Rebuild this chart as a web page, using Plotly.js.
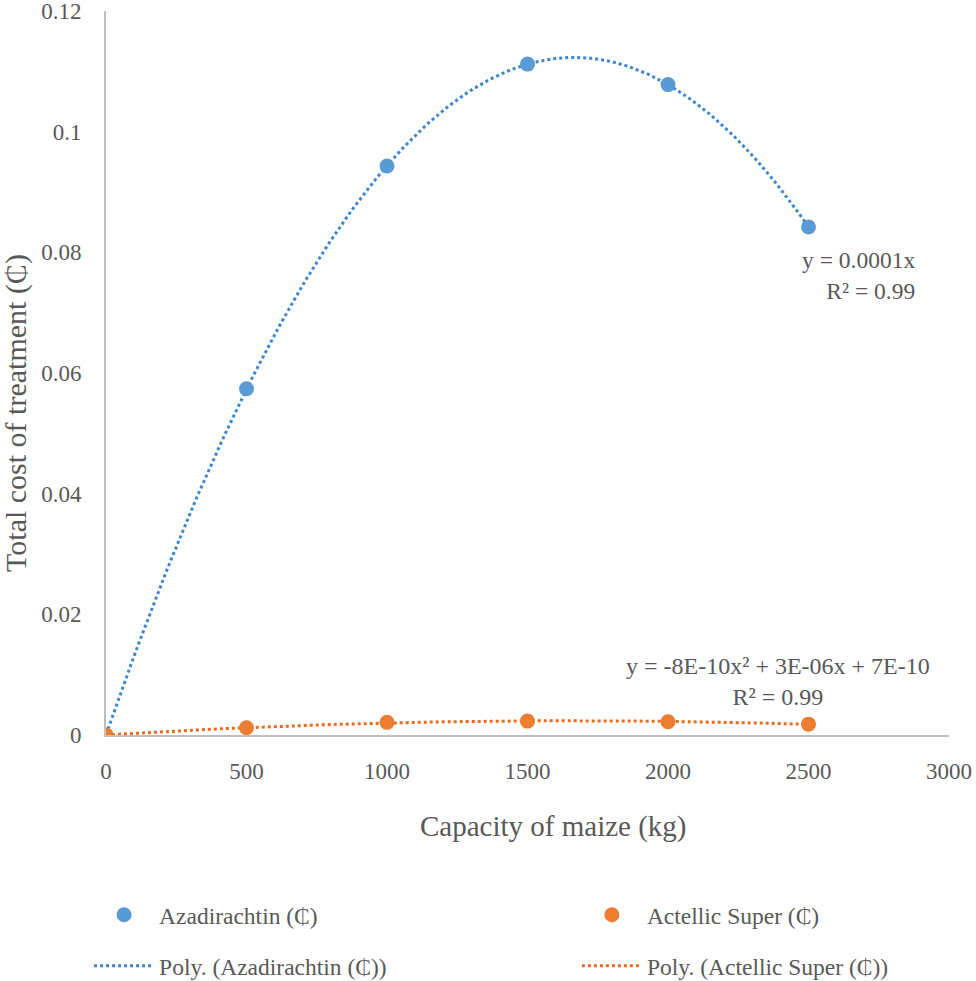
<!DOCTYPE html>
<html>
<head>
<meta charset="utf-8">
<script src="https://cdn.plot.ly/plotly-3.0.1.min.js"></script>
<style>html,body{margin:0;padding:0;background:#fff;}#chart{width:976px;height:981px;}</style>
</head>
<body>
<div id="chart"></div>
<script>
// Data
var capacity = [0, 500, 1000, 1500, 2000, 2500];
var azadirachtin = [0, 0.0574, 0.0943, 0.1112, 0.1078, 0.0842];
var actellic = [0, 0.0012, 0.0021, 0.0023, 0.0022, 0.0018];
var xTicks = [0, 500, 1000, 1500, 2000, 2500, 3000];
var yTicks = [0, 0.02, 0.04, 0.06, 0.08, 0.1, 0.12];
var yTickText = ['0', '0.02', '0.04', '0.06', '0.08', '0.1', '0.12'];
var seriesNames = ['Azadirachtin (\u20B5)', 'Actellic Super (\u20B5)'];
var trendNames = ['Poly. (Azadirachtin (\u20B5))', 'Poly. (Actellic Super (\u20B5))'];
var eqAza = ['y = 0.0001x', 'R\u00B2 = 0.99'];
var eqAct = ['y = -8E-10x\u00B2 + 3E-06x + 7E-10', 'R\u00B2 = 0.99'];
var xTitle = 'Capacity of maize (kg)';
var yTitle = 'Total cost of treatment (\u20B5)';

// Least-squares quadratic fit (Excel "Poly." order 2 trendline)
function polyFit2(xs, ys) {
  var S = [0,0,0,0,0], T = [0,0,0];
  for (var i = 0; i < xs.length; i++) {
    var p = 1;
    for (var k = 0; k < 5; k++) { S[k] += p; if (k < 3) T[k] += p * ys[i]; p *= xs[i]; }
  }
  var A = [[S[0],S[1],S[2],T[0]],[S[1],S[2],S[3],T[1]],[S[2],S[3],S[4],T[2]]];
  for (var c = 0; c < 3; c++) {
    for (var r = c + 1; r < 3; r++) {
      var f = A[r][c] / A[c][c];
      for (var j = c; j < 4; j++) A[r][j] -= f * A[c][j];
    }
  }
  var b = [0,0,0];
  for (var r2 = 2; r2 >= 0; r2--) {
    var s = A[r2][3];
    for (var j2 = r2 + 1; j2 < 3; j2++) s -= A[r2][j2] * b[j2];
    b[r2] = s / A[r2][r2];
  }
  return b;
}
function trend(xs, ys) {
  var b = polyFit2(xs, ys);
  var x0 = xs[0], x1 = xs[xs.length - 1], tx = [], ty = [];
  for (var i = 0; i <= 200; i++) {
    var x = x0 + (x1 - x0) * i / 200;
    tx.push(x); ty.push(b[0] + b[1] * x + b[2] * x * x);
  }
  return {x: tx, y: ty};
}
var tA = trend(capacity, azadirachtin);
var tB = trend(capacity, actellic);

var FONT = 'Liberation Serif';
var GREY = '#595959';
var BLUE = '#5B9BD5', ORANGE = '#ED7D31';
var BLUE_L = '#3C86D2', ORANGE_L = '#F06A1E';

var traces = [
  {x: tA.x, y: tA.y, mode: 'lines', name: trendNames[0], legend: 'legend3',
   line: {color: BLUE_L, width: 3, dash: 'dot'}, hoverinfo: 'skip'},
  {x: tB.x, y: tB.y, mode: 'lines', name: trendNames[1], legend: 'legend4',
   line: {color: ORANGE_L, width: 3, dash: 'dot'}, hoverinfo: 'skip'},
  {x: capacity, y: azadirachtin, mode: 'markers', name: seriesNames[0], legend: 'legend',
   marker: {color: BLUE, size: 15}},
  {x: capacity, y: actellic, mode: 'markers', name: seriesNames[1], legend: 'legend2',
   marker: {color: ORANGE, size: 15}}
];

function legendAt(x, y) {
  return {
    orientation: 'h', xanchor: 'left', yanchor: 'middle', x: x, y: y,
    font: {family: FONT, size: 23.5, color: GREY},
    itemwidth: 60, bgcolor: 'rgba(0,0,0,0)', traceorder: 'normal'
  };
}

var layout = {
  width: 976, height: 981,
  margin: {l: 106, r: 27, t: 11, b: 246, autoexpand: false},
  paper_bgcolor: '#fff', plot_bgcolor: '#fff',
  font: {family: FONT, color: GREY, size: 23},
  showlegend: true,
  xaxis: {
    range: [0, 3000], tickmode: 'array', tickvals: xTicks,
    showgrid: false, zeroline: false, showline: true,
    linecolor: '#BFBFBF', linewidth: 2, ticks: '',
    tickfont: {family: FONT, size: 23, color: GREY},
    ticklabelstandoff: 14, ticklabeloverflow: 'allow',
    automargin: false
  },
  yaxis: {
    range: [0, 0.12], tickmode: 'array', tickvals: yTicks, ticktext: yTickText,
    showgrid: false, zeroline: false, showline: true,
    linecolor: '#BFBFBF', linewidth: 2, ticks: '',
    tickfont: {family: FONT, size: 23, color: GREY},
    ticklabelstandoff: 18, ticklabeloverflow: 'allow',
    automargin: false
  },
  legend: legendAt(-0.0201, -0.2486),
  legend2: legendAt(0.5586, -0.2486),
  legend3: legendAt(-0.0201, -0.3191),
  legend4: legendAt(0.5586, -0.3191),
  annotations: [
    {xref: 'paper', yref: 'paper', x: 0.5308, y: -0.1257, text: xTitle,
     showarrow: false, xanchor: 'center', yanchor: 'middle',
     font: {family: FONT, size: 29, color: GREY}},
    {xref: 'paper', yref: 'paper', x: -0.1068, y: 0.4448, text: yTitle, textangle: -90,
     showarrow: false, xanchor: 'center', yanchor: 'middle',
     font: {family: FONT, size: 30, color: GREY}},
    {xref: 'x', yref: 'y', x: 2886, y: 0.0761, text: eqAza.join('<br>'),
     showarrow: false, align: 'right', xanchor: 'right', yanchor: 'middle',
     font: {family: FONT, size: 23.5, color: GREY}},
    {xref: 'x', yref: 'y', x: 2393, y: 0.00887, text: eqAct.join('<br>'),
     showarrow: false, align: 'center', xanchor: 'center', yanchor: 'middle',
     font: {family: FONT, size: 24, color: GREY}}
  ]
};

Plotly.newPlot('chart', traces, layout, {displayModeBar: false, staticPlot: true});
</script>
</body>
</html>
